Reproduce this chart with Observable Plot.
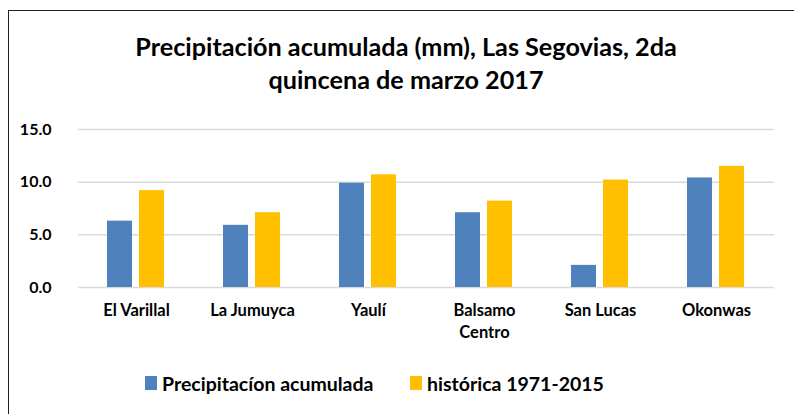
<!DOCTYPE html>
<html>
<head>
<meta charset="utf-8">
<script src="https://cdn.jsdelivr.net/npm/d3@7"></script>
<script src="https://cdn.jsdelivr.net/npm/@observablehq/plot@0.6"></script>
<style>
  html, body { margin: 0; padding: 0; background: #fff; }
  body { width: 794px; height: 414px; position: relative; overflow: hidden; font-family: Lato, "Open Sans", sans-serif; }
  #frame { position: absolute; left: 8px; top: 10px; width: 900px; height: 500px; border: 1.5px solid #222; box-sizing: border-box; }
  #title { position: absolute; left: 0; top: 30px; width: 812px; text-align: center; font-size: 25.2px; font-weight: bold; line-height: 33px; color: #000; }
  #chart { position: absolute; left: 0; top: 110px; }
  #legend { position: absolute; top: 371px; left: 0; width: 794px; height: 24px; font-size: 19.5px; font-weight: bold; color: #000; }
  .item { position: absolute; display: flex; align-items: center; height: 24px; }
  .sw { width: 12px; height: 14px; margin-right: 5px; }
</style>
</head>
<body>
<div id="frame"></div>
<div id="title">Precipitación acumulada (mm), Las Segovias, 2da<br>quincena de marzo 2017</div>
<div id="chart"></div>
<div id="legend"></div>
<script>
const categories = ["El Varillal", "La Jumuyca", "Yaulí", "Balsamo Centro", "San Lucas", "Okonwas"];
const acumulada = [6.3, 5.9, 9.9, 7.1, 2.1, 10.4];
const historica = [9.2, 7.1, 10.7, 8.2, 10.2, 11.5];
const series = ["Precipitacíon acumulada", "histórica 1971-2015"];
const colors = ["#4F81BD", "#FFC000"];
const yTicks = [0, 5, 10, 15];

const data = [];
categories.forEach((c, i) => {
  data.push({estacion: c, serie: series[0], valor: acumulada[i]});
  data.push({estacion: c, serie: series[1], valor: historica[i]});
});

const chart = Plot.plot({
  width: 794,
  height: 250,
  marginLeft: 76,
  marginRight: 18,
  marginTop: 19,
  marginBottom: 73,
  style: {fontFamily: "Lato, 'Open Sans', sans-serif", fontSize: "16px", fontWeight: "bold", color: "#000", background: "transparent"},
  fx: {domain: categories, padding: 0, axis: null},
  x: {domain: series, paddingInner: 0.21, paddingOuter: 0.87, axis: null},
  y: {domain: [0, 15], axis: null},
  color: {domain: series, range: colors},
  marks: [
    Plot.gridY({ticks: yTicks, stroke: "#d9d9d9", strokeOpacity: 1, strokeWidth: 1.5}),
    Plot.barY(data, {fx: "estacion", x: "serie", y: "valor", fill: "serie"}),
    Plot.axisY({ticks: yTicks, tickFormat: d3.format(".1f"), tickSize: 0, tickPadding: 27, label: null, fontSize: 16, fontWeight: "bold"}),
    Plot.axisFx({anchor: "bottom", tickSize: 0, tickPadding: 13, label: null, fontSize: 16.5, fontWeight: "bold", lineHeight: 1.32,
      tickFormat: d => d === "Balsamo Centro" ? "Balsamo\nCentro" : d})
  ]
});
document.getElementById("chart").appendChild(chart);

const legend = document.getElementById("legend");
const lx = [145, 410];
series.forEach((s, i) => {
  const it = document.createElement("div");
  it.className = "item";
  it.style.left = lx[i] + "px";
  const sw = document.createElement("div");
  sw.className = "sw";
  sw.style.background = colors[i];
  const t = document.createElement("span");
  t.textContent = s;
  it.appendChild(sw);
  it.appendChild(t);
  legend.appendChild(it);
});
</script>
</body>
</html>
